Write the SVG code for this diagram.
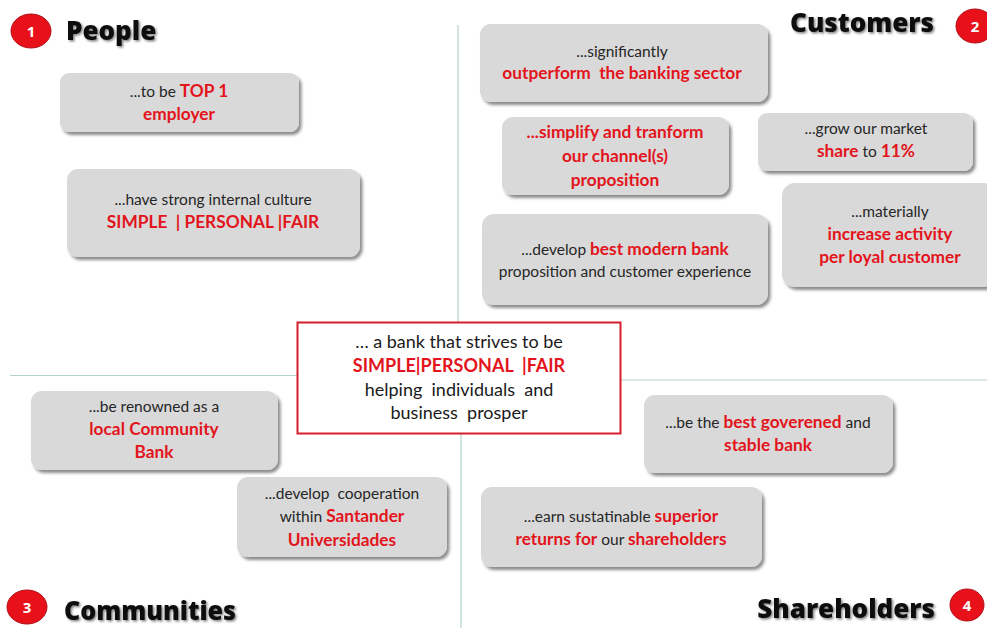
<svg xmlns="http://www.w3.org/2000/svg" width="987" height="628" viewBox="0 0 987 628">
<defs>
<filter id="sh" x="-10%" y="-20%" width="125%" height="150%">
<feDropShadow dx="2.5" dy="3" stdDeviation="1.8" flood-color="#000" flood-opacity="0.45"/>
</filter>
<filter id="tsh" x="-10%" y="-30%" width="120%" height="160%">
<feDropShadow dx="1.5" dy="1.5" stdDeviation="1.2" flood-color="#000" flood-opacity="0.5"/>
</filter>
</defs>
<style>
.box{fill:#d9d9d9;filter:url(#sh)}
.t{font-family:Lato,"Open Sans",sans-serif;font-size:15.5px;fill:#262626;text-anchor:middle}
.r{font-weight:700;fill:#e3141c;font-size:17.3px}
.hd{font-family:"Open Sans",Lato,sans-serif;font-weight:800;font-size:26px;fill:#111;filter:url(#tsh)}
.num{fill:#e8111a;stroke:#b0101a;stroke-width:1}
.nt{font-family:"Open Sans",sans-serif;font-weight:700;font-size:15px;fill:#fff;text-anchor:middle}
.ln{stroke:#b3d4c2;stroke-width:1.2;fill:none}
.ct{font-family:Lato,"Open Sans",sans-serif;font-size:18px;fill:#1a1a1a;text-anchor:middle}
</style>
<rect width="987" height="628" fill="#fff"/>
<g id="connectors">
<line class="ln" x1="458" y1="25" x2="458" y2="322"/>
<line class="ln" x1="461" y1="434" x2="461" y2="628"/>
<line class="ln" x1="10" y1="375.5" x2="297" y2="375.5"/>
<line class="ln" x1="621" y1="380" x2="987" y2="380"/>
</g>
<g id="header-people">
<ellipse class="num" cx="31" cy="31" rx="20" ry="17"/>
<text class="nt" x="31" y="36.5">1</text>
<text class="hd" x="66" y="40">People</text>
</g>
<g id="header-customers">
<ellipse class="num" cx="975" cy="26" rx="19" ry="17"/>
<text class="nt" x="975" y="31.5">2</text>
<text class="hd" x="934" y="32" text-anchor="end">Customers</text>
</g>
<g id="header-communities">
<ellipse class="num" cx="27" cy="607" rx="20" ry="17"/>
<text class="nt" x="27" y="612.5">3</text>
<text class="hd" x="64" y="620" textLength="172" lengthAdjust="spacingAndGlyphs">Communities</text>
</g>
<g id="header-shareholders">
<ellipse class="num" cx="967" cy="605" rx="17" ry="16"/>
<text class="nt" x="967" y="610.5">4</text>
<text class="hd" x="935" y="618" text-anchor="end">Shareholders</text>
</g>
<g id="center">
<rect x="297.5" y="322.5" width="323" height="111" fill="#fff" stroke="#d4202a" stroke-width="2"/>
<text class="ct" x="459" y="348">… a bank that strives to be</text>
<text class="ct" x="459" y="372" xml:space="preserve"><tspan font-weight="700" fill="#e3141c">SIMPLE|PERSONAL  |FAIR</tspan></text>
<text class="ct" x="459" y="396" xml:space="preserve">helping  individuals  and</text>
<text class="ct" x="459" y="419" xml:space="preserve">business  prosper</text>
</g>
<g id="n1">
<rect class="box" x="60" y="73" width="239" height="59" rx="9"/>
<text class="t" x="179" y="97">...to be <tspan class="r">TOP 1</tspan></text>
<text class="t" x="179" y="120"><tspan class="r">employer</tspan></text>
</g>
<g id="n2">
<rect class="box" x="67" y="169" width="293" height="88" rx="11"/>
<text class="t" x="213" y="205" font-size="15px">...have strong internal culture</text>
<text class="t" x="213" y="228" xml:space="preserve"><tspan class="r">SIMPLE  | PERSONAL |FAIR</tspan></text>
</g>
<g id="n3">
<rect class="box" x="480" y="24" width="288" height="78" rx="11"/>
<text class="t" x="622" y="57">...significantly</text>
<text class="t" x="622" y="79" xml:space="preserve"><tspan class="r">outperform  the banking sector</tspan></text>
</g>
<g id="n4">
<rect class="box" x="502" y="117" width="227" height="78" rx="11"/>
<text class="t" x="615" y="138"><tspan class="r">...simplify and tranform</tspan></text>
<text class="t" x="615" y="162"><tspan class="r">our channel(s)</tspan></text>
<text class="t" x="615" y="186"><tspan class="r">proposition</tspan></text>
</g>
<g id="n5">
<rect class="box" x="758" y="113" width="215" height="58" rx="9"/>
<text class="t" x="866" y="134">...grow our market</text>
<text class="t" x="866" y="157"><tspan class="r">share</tspan> to <tspan class="r">11%</tspan></text>
</g>
<g id="n6">
<rect class="box" x="482" y="214" width="286" height="91" rx="12"/>
<text class="t" x="625" y="255">...develop <tspan class="r">best modern bank</tspan></text>
<text class="t" x="625" y="277">proposition and customer experience</text>
</g>
<g id="n7">
<rect class="box" x="782" y="183" width="215" height="104" rx="13"/>
<text class="t" x="890" y="217">...materially</text>
<text class="t" x="890" y="240"><tspan class="r">increase activity</tspan></text>
<text class="t" x="890" y="263"><tspan class="r">per loyal customer</tspan></text>
</g>
<g id="n8">
<rect class="box" x="31" y="391" width="247" height="79" rx="11"/>
<text class="t" x="154" y="412">...be renowned as a</text>
<text class="t" x="154" y="435"><tspan class="r">local Community</tspan></text>
<text class="t" x="154" y="458"><tspan class="r">Bank</tspan></text>
</g>
<g id="n9">
<rect class="box" x="237" y="477" width="210" height="80" rx="11"/>
<text class="t" x="342" y="499" xml:space="preserve">...develop  cooperation</text>
<text class="t" x="342" y="522">within <tspan class="r">Santander</tspan></text>
<text class="t" x="342" y="546"><tspan class="r">Universidades</tspan></text>
</g>
<g id="n10">
<rect class="box" x="644" y="395" width="249" height="78" rx="11"/>
<text class="t" x="768" y="428">...be the <tspan class="r">best goverened</tspan> and</text>
<text class="t" x="768" y="451"><tspan class="r">stable bank</tspan></text>
</g>
<g id="n11">
<rect class="box" x="481" y="487" width="281" height="80" rx="11"/>
<text class="t" x="621" y="522">...earn sustatinable <tspan class="r">superior</tspan></text>
<text class="t" x="621" y="545"><tspan class="r">returns for</tspan> our <tspan class="r">shareholders</tspan></text>
</g>
</svg>
